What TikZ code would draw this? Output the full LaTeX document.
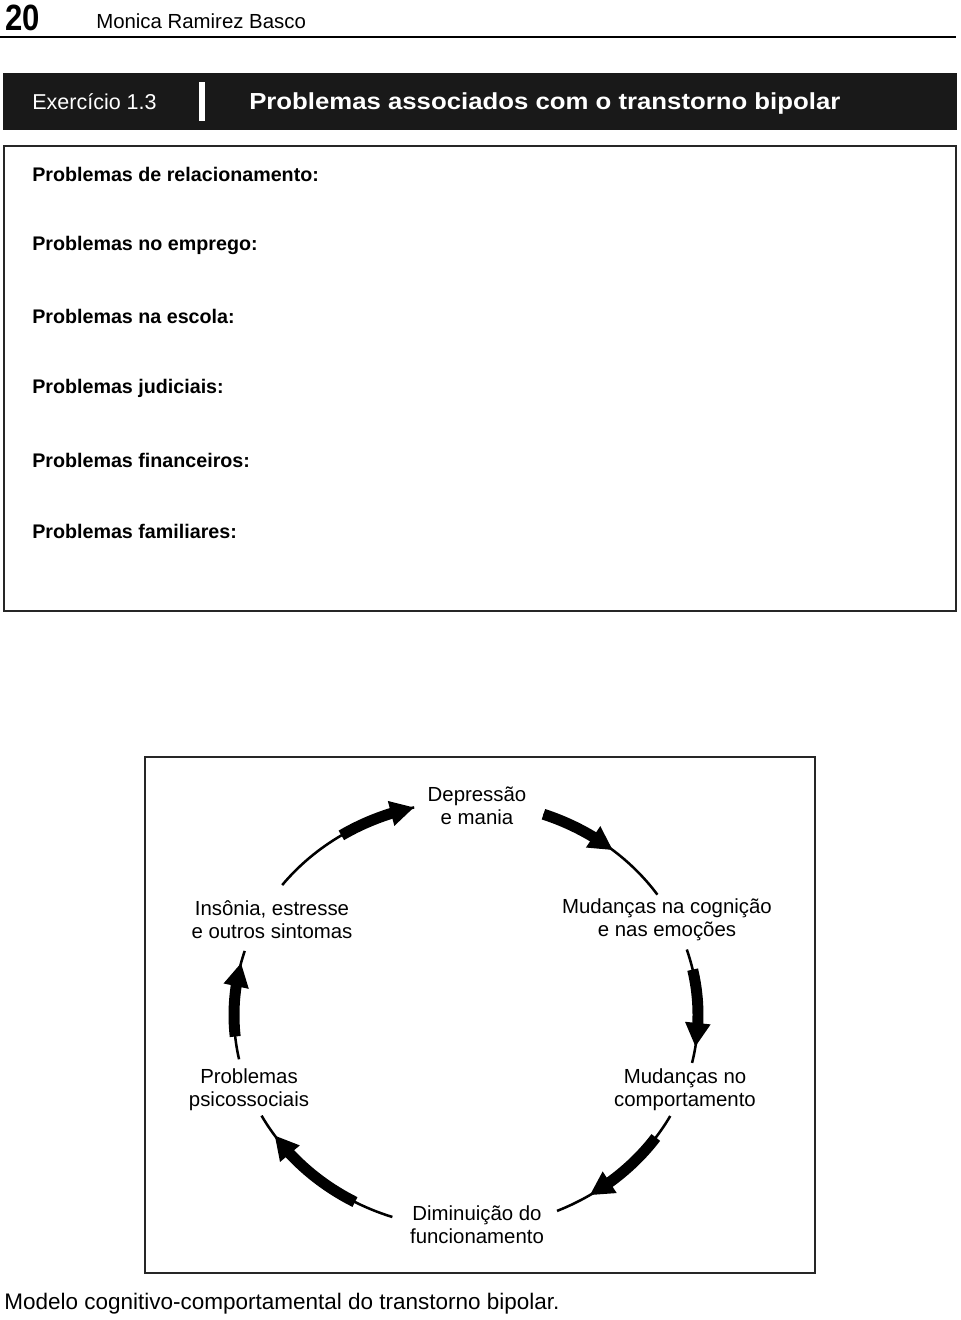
\documentclass[tikz,border=0pt]{standalone}
\usepackage{fontspec}
\setmainfont{Liberation Sans}
\usepackage{graphicx}
\usetikzlibrary{arrows.meta}
\usetikzlibrary{bending}
\pgfdeclarelayer{edgelayer}
\pgfdeclarelayer{nodelayer}
\pgfsetlayers{edgelayer,nodelayer,main}
\tikzstyle{stage}=[align=center,inner sep=0pt,font=\fontsize{14.5}{16.4}\selectfont]
\tikzstyle{entry}=[anchor=west,inner sep=0pt,font=\fontsize{14}{16}\selectfont\bfseries]
\tikzstyle{link}=[line width=1.8pt,draw=black]
\tikzstyle{band}=[line width=7.8pt,draw=black,-{Triangle[length=17pt,width=17pt]}]
\tikzstyle{frame}=[line width=2.1pt,draw=black!85]

\begin{document}
\begin{tikzpicture}[x=0.025cm,y=-0.025cm]
	\useasboundingbox (0,0) rectangle (960,1320);
	% page head
	\node [anchor=west,inner sep=0pt,font=\fontsize{26}{26}\selectfont\bfseries] (page) at (5,18) {\scalebox{0.85}[1]{20}};
	\node [anchor=west,inner sep=0pt,font=\fontsize{14.5}{16}\selectfont] (author) at (96,21) {Monica Ramirez Basco};
	\draw [line width=1.1pt] (0,37) -- (956,37);
	% exercise bar
	\fill [black!90] (3,73) rectangle (957,130);
	\fill [white] (199,82) rectangle (205,121);
	\node [anchor=west,inner sep=0pt,text=white,font=\fontsize{15.3}{16}\selectfont] (ex) at (32,102) {Exercício 1.3};
	\node [anchor=west,inner sep=0pt,text=white,font=\fontsize{16.5}{16}\selectfont\bfseries] (title) at (249,104) {\scalebox{1.11}[1]{Problemas associados com o transtorno bipolar}};
	% list box
	\draw [style=frame] (4,146) rectangle (956,611);
	\node [style=entry] (r1) at (32,174) {Problemas de relacionamento:};
	\node [style=entry] (r2) at (32,245) {Problemas no emprego:};
	\node [style=entry] (r3) at (32,316) {Problemas na escola:};
	\node [style=entry] (r4) at (32,388) {Problemas judiciais:};
	\node [style=entry] (r5) at (32,460) {Problemas financeiros:};
	\node [style=entry] (r6) at (32,531) {Problemas familiares:};
	% cycle diagram
	\draw [style=frame] (145,757) rectangle (815,1273);
	\coordinate (c) at (466,1015);
	\begin{pgfonlayer}{nodelayer}
		\node [style=stage] (0) at (477,806) {Depressão\\e mania};
		\node [style=stage] (1) at (667,920) {Mudanças na cognição\\e nas emoções};
		\node [style=stage] (2) at (685,1090) {Mudanças no\\comportamento};
		\node [style=stage] (3) at (477,1225) {Diminuição do\\funcionamento};
		\node [style=stage] (4) at (249,1090) {Problemas\\psicossociais};
		\node [style=stage] (5) at (272,920) {Insônia, estresse\\e outros sintomas};
	\end{pgfonlayer}
	\begin{pgfonlayer}{edgelayer}
		\draw [style=link] (c) ++(217.6:232 and 213) arc [start angle=217.6, end angle=257.1, x radius=232, y radius=213];
		\draw [style=band] (c) ++(237.5:232 and 213) arc [start angle=237.5, end angle=257.1, x radius=232, y radius=213];
		\draw [style=link] (c) ++(289.5:232 and 213) arc [start angle=289.5, end angle=325.6, x radius=232, y radius=213];
		\draw [style=band] (c) ++(289.5:232 and 213) arc [start angle=289.5, end angle=309.3, x radius=232, y radius=213];
		\draw [style=link] (c) ++(-17.9:232 and 213) arc [start angle=-17.9, end angle=13, x radius=232, y radius=213];
		\draw [style=band] (c) ++(-12.3:232 and 213) arc [start angle=-12.3, end angle=8.6, x radius=232, y radius=213];
		\draw [style=link] (c) ++(28.3:232 and 213) arc [start angle=28.3, end angle=66.9, x radius=232, y radius=213];
		\draw [style=band] (c) ++(35.1:232 and 213) arc [start angle=35.1, end angle=57.8, x radius=232, y radius=213];
		\draw [style=link] (c) ++(108.5:232 and 213) arc [start angle=108.5, end angle=151.8, x radius=232, y radius=213];
		\draw [style=band] (c) ++(118.6:232 and 213) arc [start angle=118.6, end angle=145.6, x radius=232, y radius=213];
		\draw [style=link] (c) ++(168:232 and 213) arc [start angle=168, end angle=197.5, x radius=232, y radius=213];
		\draw [style=band] (c) ++(174.2:232 and 213) arc [start angle=174.2, end angle=194.2, x radius=232, y radius=213];
	\end{pgfonlayer}
	\node [anchor=west,inner sep=0pt,font=\fontsize{16}{18}\selectfont] (caption) at (4,1304) {Modelo cognitivo-comportamental do transtorno bipolar.};
\end{tikzpicture}
\end{document}
